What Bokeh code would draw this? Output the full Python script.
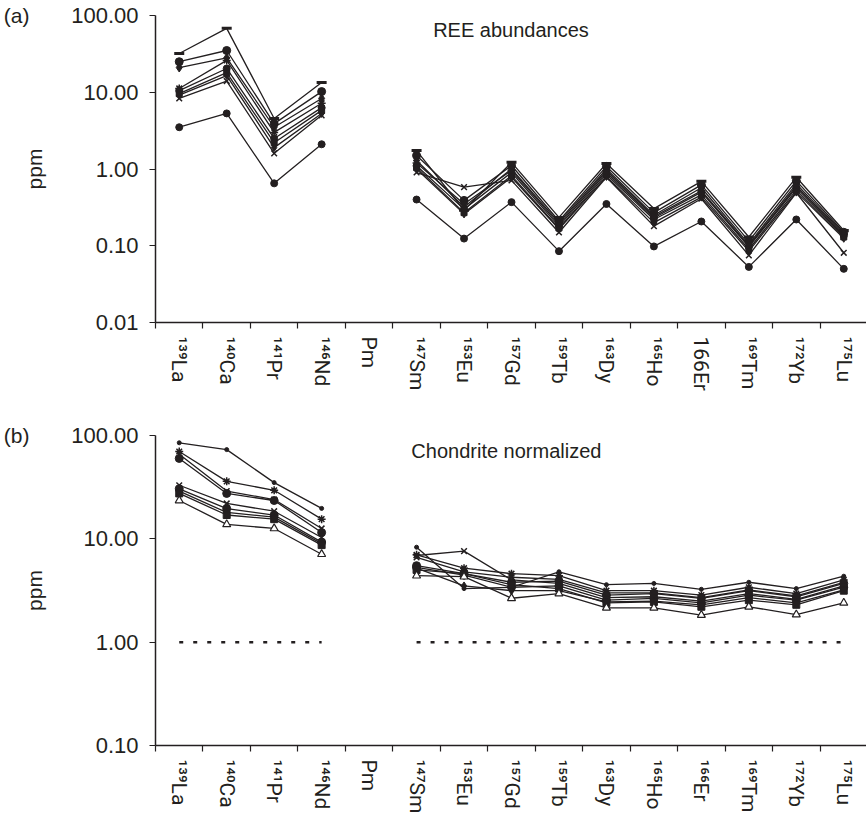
import numpy as np
from bokeh.plotting import figure
from bokeh.layouts import column
from bokeh.models import FixedTicker, Label, Range1d, PrintfTickFormatter, LogAxis
from bokeh.embed import file_html
from bokeh.resources import INLINE

NA = np.nan
elements = ["La", "Ca", "Pr", "Nd", "Pm", "Sm", "Eu", "Gd", "Tb", "Dy", "Ho", "Er", "Tm", "Yb", "Lu"]
labels_a = ["¹³⁹La", "¹⁴⁰Ca", "¹⁴¹Pr", "¹⁴⁶Nd", "Pm", "¹⁴⁷Sm", "¹⁵³Eu", "¹⁵⁷Gd", "¹⁵⁹Tb",
            "¹⁶³Dy", "¹⁶⁵Ho", "166Er", "¹⁶⁹Tm", "¹⁷²Yb", "¹⁷⁵Lu"]
labels_b = ["¹³⁹La", "¹⁴⁰Ca", "¹⁴¹Pr", "¹⁴⁶Nd", "Pm", "¹⁴⁷Sm", "¹⁵³Eu", "¹⁵⁷Gd", "¹⁵⁹Tb",
            "¹⁶³Dy", "¹⁶⁵Ho", "¹⁶⁶Er", "¹⁶⁹Tm", "¹⁷²Yb", "¹⁷⁵Lu"]

# (a) REE abundances, ppm
a1 = [32, 68, 4.55, 13.4, NA, 1.74, 0.29, 1.22, 0.234, 1.18, 0.305, 0.69, 0.13, 0.78, 0.158]
a2 = [25, 35, 3.9, 10.2, NA, 1.5, 0.39, 1.11, 0.21, 1.08, 0.27, 0.62, 0.115, 0.70, 0.15]
a3 = [21, 28, 3.5, 8.3, NA, 1.29, 0.32, 1.0, 0.20, 1.0, 0.25, 0.57, 0.105, 0.64, 0.145]
a4 = [11.2, 26, 3.0, 7.2, NA, 1.2, 0.35, 0.96, 0.19, 0.95, 0.24, 0.52, 0.10, 0.60, 0.14]
a5 = [10.5, 20.4, 2.5, 6.3, NA, 1.1, 0.30, 0.90, 0.18, 0.90, 0.23, 0.50, 0.097, 0.57, 0.135]
a6 = [9.6, 18, 2.2, 5.8, NA, 1.05, 0.27, 0.82, 0.17, 0.85, 0.22, 0.46, 0.09, 0.53, 0.13]
a7 = [9.2, 16.5, 1.9, 5.3, NA, 1.0, 0.26, 0.78, 0.165, 0.80, 0.20, 0.43, 0.085, 0.50, 0.125]
a8 = [8.3, 14, 1.6, 5.0, NA, 0.9, 0.58, 0.71, 0.149, 0.78, 0.18, 0.41, 0.075, 0.49, 0.081]
a9 = [3.5, 5.3, 0.65, 2.1, NA, 0.40, 0.124, 0.37, 0.085, 0.35, 0.098, 0.207, 0.053, 0.22, 0.050]

# (b) Chondrite normalized
b1 = [85, 73, 35, 19.7, NA, 8.3, 3.3, 3.4, 4.8, 3.6, 3.7, 3.25, 3.8, 3.3, 4.35]
b2 = [70, 36, 29.5, 15.5, NA, 7.0, 5.2, 4.6, 4.4, 3.15, 3.15, 2.85, 3.4, 2.95, 4.0]
b3 = [66, 29, 24, 12.6, NA, 6.6, 4.8, 4.25, 4.05, 3.0, 3.0, 2.7, 3.2, 2.8, 3.8]
b4 = [60, 27.5, 23.5, 11.5, NA, 5.5, 4.6, 3.8, 3.9, 2.85, 2.95, 2.65, 3.15, 2.75, 3.7]
b5 = [33, 22, 18.5, 10.3, NA, 6.9, 7.6, 4.0, 3.7, 2.7, 2.75, 2.5, 2.95, 2.6, 3.5]
b6 = [30.5, 19.6, 17, 9.3, NA, 5.3, 4.45, 3.4, 3.5, 2.55, 2.65, 2.4, 2.85, 2.55, 3.4]
b7 = [29, 18, 16.2, 9.0, NA, 5.2, 3.5, 3.15, 3.15, 2.45, 2.5, 2.3, 2.7, 2.4, 3.2]
b8 = [27.5, 17, 15.5, 8.7, NA, 5.0, 4.6, 3.6, 3.3, 2.4, 2.45, 2.2, 2.55, 2.3, 3.15]
b9 = [23.5, 13.8, 12.6, 7.1, NA, 4.4, 4.3, 2.66, 2.95, 2.15, 2.15, 1.83, 2.2, 1.85, 2.4]
chondrite = [1, 1, 1, 1, NA, 1, 1, 1, 1, 1, 1, 1, 1, 1, 1]

INK = "#231f20"
FONT = "Liberation Sans"
XFONT = "Roboto"
xs = [i + 0.5 for i in range(len(elements))]

markers_a = [("dash", 10, 3), ("circle", 8, 1), ("diamond", 9, 1), ("asterisk", 8, 1.5),
             ("circle", 7, 1), ("square", 6, 1), ("diamond", 8, 1), ("x", 8, 1.5), ("circle", 7, 1)]
markers_b = [("circle", 4, 1), ("asterisk", 8, 1.5), ("x", 8, 1.5), ("circle", 8, 1),
             ("x", 8, 1.5), ("circle", 8, 1), ("diamond", 8, 1), ("square", 7, 1), ("triangle", 8, 1.2)]


def make_panel(series, markers, labels, ymin, frame_h, top_b, bot_b, tag):
    p = figure(frame_width=712, frame_height=frame_h, y_axis_type="log",
               x_range=Range1d(0, len(elements)), y_range=Range1d(ymin, 100),
               output_backend="svg", toolbar_location=None,
               min_border_left=152, min_border_right=2, min_border_top=top_b,
               min_border_bottom=bot_b)
    p.xgrid.visible = False
    p.ygrid.visible = False
    p.outline_line_color = None
    p.background_fill_color = "white"
    p.border_fill_color = "white"

    for ys, (m, s, lw) in zip(series, markers):
        p.line(xs, ys, line_color=INK, line_width=1.3)
        fill = "white" if m == "triangle" else INK
        p.scatter(xs, ys, marker=m, size=s, line_color=INK, fill_color=fill, line_width=lw)

    xa = p.xaxis[0]
    xa.ticker = FixedTicker(ticks=xs, minor_ticks=list(range(len(elements) + 1)))
    xa.major_label_overrides = {x: lab for x, lab in zip(xs, labels)}
    xa.major_label_orientation = "vertical"
    xa.major_tick_out = 0
    xa.major_tick_in = 0
    xa.minor_tick_out = 6
    xa.minor_tick_in = 0
    xa.minor_tick_line_color = INK
    xa.minor_tick_line_width = 1.2
    xa.axis_line_color = INK
    xa.axis_line_width = 1.5
    xa.major_label_standoff = 8
    xa.major_label_text_font = XFONT
    xa.major_label_text_font_size = "21px"
    xa.major_label_text_color = INK

    ya = p.yaxis[0]
    decades = [ymin * 10 ** k for k in range(int(round(np.log10(100 / ymin))) + 1)]
    ya.ticker = FixedTicker(ticks=decades, minor_ticks=[])
    ya.formatter = PrintfTickFormatter(format="%.2f")
    ya.major_tick_out = 6
    ya.major_tick_in = 0
    ya.major_tick_line_color = INK
    ya.major_tick_line_width = 1.2
    ya.minor_tick_line_color = None
    ya.axis_line_color = INK
    ya.axis_line_width = 1.5
    ya.major_label_standoff = 11
    ya.major_label_text_font = FONT
    ya.major_label_text_font_size = "22px"
    ya.major_label_text_color = INK
    ya.axis_label = "ppm"
    ya.axis_label_text_font = FONT
    ya.axis_label_text_font_size = "21px"
    ya.axis_label_text_font_style = "normal"
    ya.axis_label_text_color = INK
    ya.axis_label_standoff = 22

    # panel tag "(a)" / "(b)" level with the top tick
    tag_axis = LogAxis(ticker=FixedTicker(ticks=[100], minor_ticks=[]),
                       major_label_overrides={100: tag},
                       axis_line_color=None, major_tick_line_color=None,
                       minor_tick_line_color=None, major_tick_out=0, major_tick_in=0,
                       major_label_standoff=-9, major_label_text_font=FONT,
                       major_label_text_font_size="21px", major_label_text_color=INK)
    p.add_layout(tag_axis, "left")
    return p


p1 = make_panel([a1, a2, a3, a4, a5, a6, a7, a8, a9], markers_a, labels_a, 0.01, 307, 15, 75, "(a)")
p1.add_layout(Label(x=5.85, y=63.8, text="REE abundances", text_font=FONT, text_font_size="20px",
                    text_color=INK, text_align="left", text_baseline="alphabetic"))

p2 = make_panel([b1, b2, b3, b4, b5, b6, b7, b8, b9], markers_b, labels_b, 0.1, 310, 38, 67, "(b)")
p2.line(xs, chondrite, line_color=INK, line_width=2.5, line_dash="4 10")
p2.add_layout(Label(x=5.39, y=71.5, text="Chondrite normalized", text_font=FONT,
                    text_font_size="20px", text_color=INK, text_align="left",
                    text_baseline="alphabetic"))

layout = column(p1, p2, spacing=0)
open("out.html", "w").write(file_html(layout, INLINE))
